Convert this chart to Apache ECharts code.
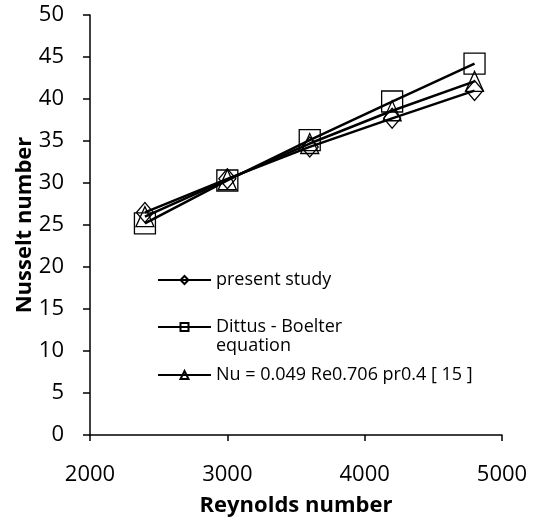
<!DOCTYPE html>
<html>
<head>
<meta charset="utf-8">
<script src="https://cdn.jsdelivr.net/npm/echarts@6/dist/echarts.min.js"></script>
<style>
  html, body { margin: 0; padding: 0; background: #fff; }
  #chart { width: 537px; height: 522px; }
</style>
</head>
<body>
<div id="chart"></div>
<script>
// Reynolds number of each test point
var reynolds = [2400, 3000, 3600, 4200, 4800];
// Nusselt number values
var presentStudy = [26.5, 30.5, 34.3, 37.7, 41.0];
var dittusBoelter = [25.2, 30.3, 35.1, 39.7, 44.2];
var correlation15 = [26.0, 30.4, 34.7, 38.6, 42.1];

var seriesNames = ['present study', 'Dittus - Boelter equation', 'Nu = 0.049 Re0.706 pr0.4 [ 15 ]'];

var font = 'Open Sans';

function pairs(ys) {
    return reynolds.map(function (x, i) { return [x, ys[i]]; });
}

function makeSeries(name, ys, symbol, size, width) {
    return {
        name: name,
        type: 'line',
        data: pairs(ys),
        symbol: symbol,
        symbolSize: size,
        showSymbol: true,
        lineStyle: {color: '#000', width: width},
        itemStyle: {color: 'transparent', borderColor: '#000', borderWidth: 1.3},
        emphasis: {disabled: true}
    };
}

function legendAt(top, name, formatter) {
    return {
        data: [name],
        left: 152,
        top: top,
        orient: 'vertical',
        itemWidth: 53,
        itemHeight: 10,
        selectedMode: false,
        formatter: formatter,
        textStyle: {fontFamily: font, fontSize: 18, color: '#000'}
    };
}

var myChart = echarts.init(document.getElementById('chart'), null, {renderer: 'canvas'});

myChart.setOption({
    animation: false,
    backgroundColor: '#fff',
    grid: {left: 90, right: 35, top: 15, bottom: 87, containLabel: false, outerBoundsMode: 'none'},
    legend: [
        legendAt(266, seriesNames[0]),
        legendAt(313, seriesNames[1], function () { return 'Dittus - Boelter'; }),
        legendAt(361, seriesNames[2])
    ],
    graphic: [{
        type: 'text',
        left: 216,
        top: 337,
        style: {text: 'equation', font: '18px "Open Sans"', fill: '#000'}
    }],
    xAxis: {
        type: 'value',
        min: 2000,
        max: 5000,
        interval: 1000,
        name: 'Reynolds number',
        nameLocation: 'middle',
        nameGap: 60,
        nameMoveOverlap: false,
        nameTextStyle: {fontFamily: font, fontSize: 22, fontWeight: 'bold', color: '#000'},
        axisLine: {show: true, onZero: false, lineStyle: {color: '#000', width: 1.5}},
        axisTick: {show: true, inside: false, length: 6, lineStyle: {color: '#000', width: 1.5}},
        axisLabel: {fontFamily: font, fontSize: 22, color: '#000', margin: 29,
            formatter: function (v) { return String(v); }},
        splitLine: {show: false}
    },
    yAxis: {
        type: 'value',
        min: 0,
        max: 50,
        interval: 5,
        name: 'Nusselt number',
        nameLocation: 'middle',
        nameGap: 54,
        nameMoveOverlap: false,
        nameTextStyle: {fontFamily: font, fontSize: 22, fontWeight: 'bold', color: '#000'},
        axisLine: {show: true, lineStyle: {color: '#000', width: 1.5}},
        axisTick: {show: true, inside: false, length: 7, lineStyle: {color: '#000', width: 1.5}},
        axisLabel: {fontFamily: font, fontSize: 22, color: '#000', margin: 26},
        splitLine: {show: false}
    },
    series: [
        makeSeries(seriesNames[0], presentStudy, 'diamond', [17, 20], 2.5),
        makeSeries(seriesNames[1], dittusBoelter, 'rect', [21, 21], 2.5),
        makeSeries(seriesNames[2], correlation15, 'triangle', [18, 20], 2.5)
    ]
});
</script>
</body>
</html>
